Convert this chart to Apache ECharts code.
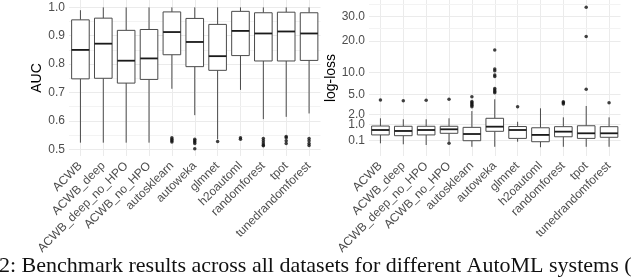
<!DOCTYPE html>
<html><head><meta charset="utf-8">
<script src="https://cdn.jsdelivr.net/npm/echarts@6/dist/echarts.min.js"></script>
<style>html,body{margin:0;padding:0;background:#fff}#c{width:640px;height:280px}</style>
</head><body><div id="c"></div>
<script>
const categories = ['ACWB','ACWB_deep','ACWB_deep_no_HPO','ACWB_no_HPO','autosklearn','autoweka','glmnet','h2oautoml','randomforest','tpot','tunedrandomforest'];

// [lower whisker, Q1, median, Q3, upper whisker]
const aucStats = [
  [0.523, 0.748, 0.850, 0.956, 0.990],
  [0.523, 0.750, 0.872, 0.962, 1.000],
  [0.523, 0.733, 0.812, 0.919, 1.000],
  [0.523, 0.746, 0.820, 0.922, 1.000],
  [0.713, 0.833, 0.913, 0.984, 1.000],
  [0.620, 0.791, 0.878, 0.961, 1.000],
  [0.535, 0.778, 0.828, 0.940, 1.000],
  [0.709, 0.830, 0.917, 0.986, 1.000],
  [0.606, 0.811, 0.908, 0.981, 1.000],
  [0.614, 0.811, 0.915, 0.983, 1.000],
  [0.626, 0.813, 0.908, 0.981, 1.000]
];
const aucOutliers = [
  [], [], [], [],
  [0.540, 0.535, 0.530, 0.525],
  [0.535, 0.530, 0.525, 0.520, 0.502],
  [0.527],
  [0.540, 0.535],
  [0.538, 0.530, 0.522, 0.515, 0.512],
  [0.545, 0.540, 0.530, 0.520],
  [0.538, 0.530, 0.520, 0.513]
];

const logStats = [
  [0.043, 0.31, 0.58, 0.86, 1.56],
  [0.028, 0.275, 0.52, 0.84, 1.46],
  [0.019, 0.31, 0.58, 0.84, 1.46],
  [0.075, 0.39, 0.625, 0.84, 1.56],
  [0.004, 0.10, 0.354, 0.76, 2.40],
  [0.004, 0.50, 0.81, 1.56, 4.16],
  [0.075, 0.17, 0.58, 0.82, 1.22],
  [0.002, 0.075, 0.31, 0.73, 2.77],
  [0.004, 0.23, 0.48, 0.81, 1.66],
  [0.004, 0.17, 0.39, 0.88, 3.10],
  [0.004, 0.21, 0.39, 0.81, 1.66]
];
const logOutliers = [
  [4.04],
  [3.92],
  [4.00],
  [4.16, 0.043],
  [4.6, 3.8, 3.6, 3.4, 3.2, 3.0],
  [16.7, 10.9, 10.4, 9.3, 8.9, 6.2, 5.9, 5.6, 5.36],
  [3.0],
  [],
  [3.76, 3.6, 3.4],
  [34.4, 21.6, 6.03],
  [3.6]
];

const aucTicks = [0.5, 0.6, 0.7, 0.8, 0.9, 1.0];
const aucMinor = [0.55, 0.65, 0.75, 0.85, 0.95];
const logTicks = [0.1, 1, 2, 5, 10, 20, 30];
const logMinor = [25, 36];
const caption = '2: Benchmark results across all datasets for different AutoML systems (';

const sq = Math.sqrt;
const FONT = '"Liberation Sans", Arial, sans-serif';
const GRID = '#EBEBEB';

function boxData(stats, tf) {
  return stats.map((s, i) => [i].concat(s.map(tf)));
}
function outlierData(outs, tf) {
  const r = [];
  outs.forEach((arr, i) => arr.forEach(v => r.push([i, tf(v)])));
  return r;
}
function renderBox(params, api) {
  const x = api.value(0);
  const lo = api.coord([x, api.value(1)]);
  const q1 = api.coord([x, api.value(2)]);
  const md = api.coord([x, api.value(3)]);
  const q3 = api.coord([x, api.value(4)]);
  const hi = api.coord([x, api.value(5)]);
  const bw = api.size([1, 0])[0] * 0.77;
  const cx = md[0];
  const st = { stroke: '#4a4a4a', lineWidth: 1, fill: null };
  return { type: 'group', children: [
    { type: 'line', shape: { x1: cx, y1: lo[1], x2: cx, y2: q1[1] }, style: st },
    { type: 'line', shape: { x1: cx, y1: q3[1], x2: cx, y2: hi[1] }, style: st },
    { type: 'rect', shape: { x: cx - bw / 2, y: q3[1], width: bw, height: q1[1] - q3[1] }, style: { stroke: '#4a4a4a', lineWidth: 1, fill: '#fff' } },
    { type: 'line', shape: { x1: cx - bw / 2, y1: md[1], x2: cx + bw / 2, y2: md[1] }, style: { stroke: '#1a1a1a', lineWidth: 1.8 } }
  ]};
}
function gridSeries(idx, majors, minors) {
  const d = [];
  categories.forEach(c => d.push({ xAxis: c, lineStyle: { color: GRID, width: 1 } }));
  majors.forEach(v => d.push({ yAxis: v, lineStyle: { color: GRID, width: 1 } }));
  minors.forEach(v => d.push({ yAxis: v, lineStyle: { color: '#F3F3F3', width: 1 } }));
  return {
    type: 'scatter', xAxisIndex: idx, yAxisIndex: idx, data: [], silent: true, z: 0,
    markLine: { silent: true, symbol: ['none', 'none'], label: { show: false }, z: 0,
      lineStyle: { type: 'solid' }, emphasis: { disabled: true }, data: d, animation: false }
  };
}
const xLabel = { rotate: 45, fontFamily: FONT, fontSize: 12, color: '#4d4d4d', margin: 8, interval: 0 };
function xAxis(gi) {
  return { type: 'category', gridIndex: gi, data: categories, boundaryGap: true,
    axisLine: { show: false }, axisTick: { show: false }, splitLine: { show: false }, axisLabel: xLabel };
}

const chart = echarts.init(document.getElementById('c'), null, { renderer: 'canvas' });
chart.setOption({
  animation: false,
  backgroundColor: '#fff',
  grid: [
    { left: 69, top: 0, width: 251.5, height: 156 },
    { left: 369, top: 0, width: 251.5, height: 156 }
  ],
  xAxis: [xAxis(0), xAxis(1)],
  yAxis: [
    { type: 'value', gridIndex: 0, min: 0.476, max: 1.026,
      name: 'AUC', nameLocation: 'middle', nameGap: 24, nameRotate: 90,
      nameTextStyle: { fontFamily: FONT, fontSize: 14, color: '#000' },
      axisLine: { show: false }, axisTick: { show: false, customValues: aucTicks }, splitLine: { show: false },
      axisLabel: { customValues: aucTicks, formatter: v => v.toFixed(1), fontFamily: FONT, fontSize: 12, color: '#4d4d4d', margin: 4 } },
    { type: 'value', gridIndex: 1, min: -0.32, max: 6.17,
      name: 'log-loss', nameLocation: 'middle', nameGap: 30, nameRotate: 90,
      nameTextStyle: { fontFamily: FONT, fontSize: 14, color: '#000' },
      axisLine: { show: false }, axisTick: { show: false, customValues: logTicks.map(sq) }, splitLine: { show: false },
      axisLabel: { customValues: logTicks.map(sq), formatter: v => (v * v).toFixed(1), fontFamily: FONT, fontSize: 12, color: '#4d4d4d', margin: 4 } }
  ],
  graphic: [
    { type: 'text', left: -1, top: 255, style: { text: caption, font: '22px "Liberation Serif", serif', fill: '#111' } }
  ],
  series: [
    gridSeries(0, aucTicks, aucMinor),
    gridSeries(1, logTicks.map(sq), logMinor.map(sq)),
    { type: 'custom', xAxisIndex: 0, yAxisIndex: 0, renderItem: renderBox, data: boxData(aucStats, v => v), encode: { x: 0, y: [1, 2, 3, 4, 5] }, z: 2, clip: false },
    { type: 'custom', xAxisIndex: 1, yAxisIndex: 1, renderItem: renderBox, data: boxData(logStats, sq), encode: { x: 0, y: [1, 2, 3, 4, 5] }, z: 2, clip: false },
    { type: 'scatter', xAxisIndex: 0, yAxisIndex: 0, data: outlierData(aucOutliers, v => v), symbolSize: 3.5, itemStyle: { color: '#111' }, z: 3 },
    { type: 'scatter', xAxisIndex: 1, yAxisIndex: 1, data: outlierData(logOutliers, sq), symbolSize: 3.5, itemStyle: { color: '#111' }, z: 3 }
  ]
});
</script></body></html>
